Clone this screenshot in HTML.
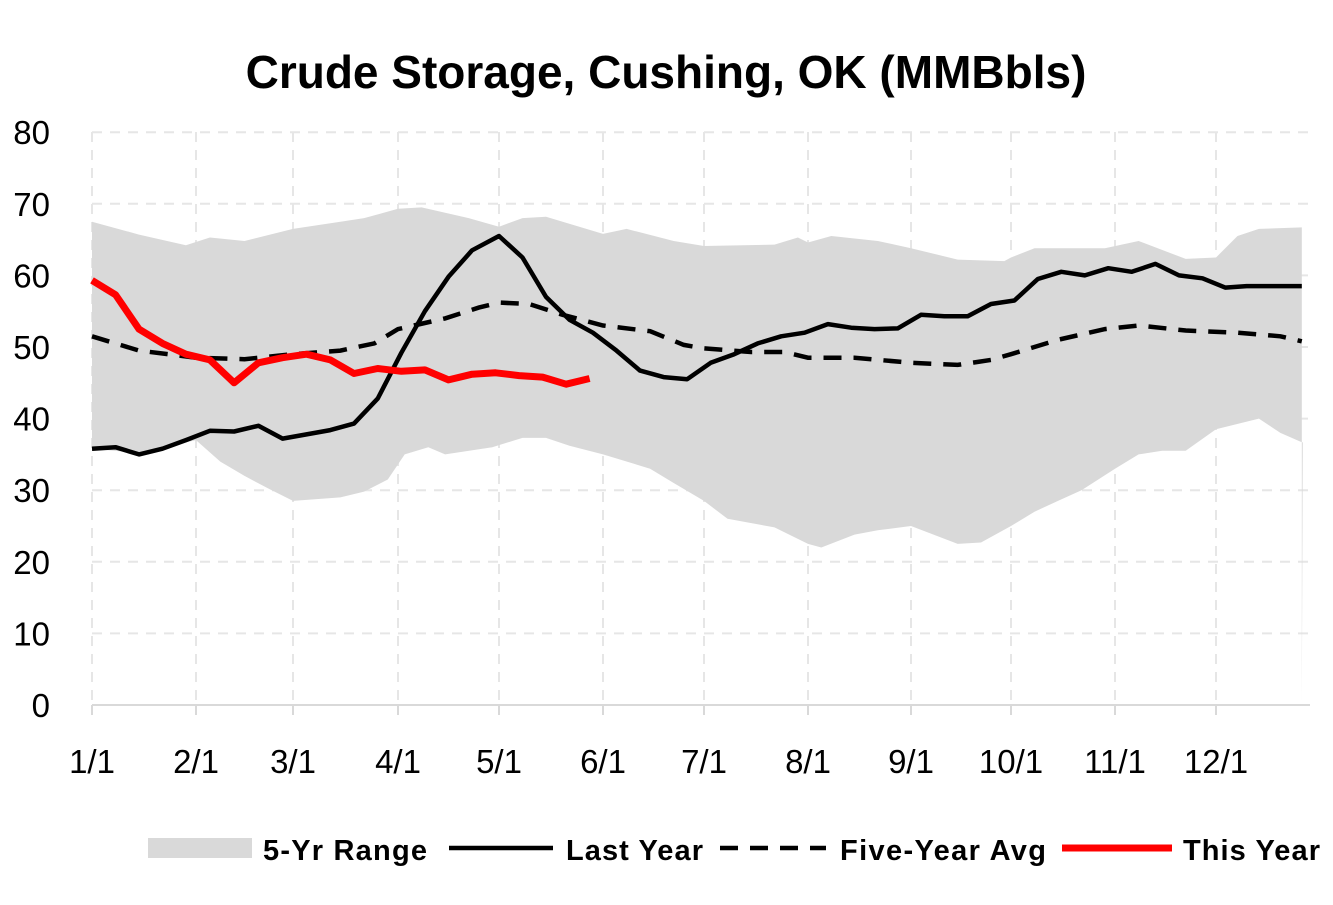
<!DOCTYPE html>
<html><head><meta charset="utf-8"><style>
body{margin:0;background:#fff;}
svg text{font-family:"Liberation Sans",sans-serif;}
</style></head><body>
<svg id="s" width="1333" height="900" xmlns="http://www.w3.org/2000/svg"></svg>
<script>
const s=document.getElementById('s');
const mpx=[92,196,293,398,499,603,704,808,911,1011,1115,1216,1311];
const dim=[31,28,31,30,31,30,31,31,30,31,30,31];
function X(m,d){return mpx[m-1]+(d-1)/dim[m-1]*(mpx[m]-mpx[m-1]);}
function Y(v){return 705-v*7.16;}
function P(arr){return arr.map((p,i)=>(i?'L':'M')+X(p[0],p[1]).toFixed(1)+','+Y(p[2]).toFixed(1)).join(' ');}
let h='';
for(let v=10;v<=80;v+=10)h+=`<line x1="92" x2="1310" y1="${Y(v)}" y2="${Y(v)}" stroke="#e6e6e6" stroke-width="2" stroke-dasharray="10,8"/>`;
for(let i=0;i<12;i++)h+=`<line x1="${mpx[i]}" x2="${mpx[i]}" y1="132" y2="705" stroke="#e6e6e6" stroke-width="2" stroke-dasharray="10,8"/>`;
const up=[[1,1,67.5],[1,15,65.7],[1,29,64.2],[2,5,65.3],[2,15,64.8],[3,1,66.5],[3,15,67.5],[3,22,68],[4,1,69.3],[4,8,69.5],[4,22,68],[5,1,66.8],[5,8,68],[5,15,68.2],[6,1,65.8],[6,8,66.5],[6,22,64.8],[7,1,64.1],[7,22,64.3],[7,29,65.3],[8,1,64.6],[8,8,65.5],[8,22,64.8],[9,1,63.8],[9,15,62.2],[9,29,62],[10,1,62.5],[10,8,63.8],[10,29,63.8],[11,8,64.8],[11,22,62.3],[12,1,62.5],[12,8,65.5],[12,15,66.5],[12,29,66.7]];
const lo=[[1,1,35.8],[1,15,35.2],[2,1,37],[2,8,34],[2,15,32],[2,22,30.2],[3,1,28.5],[3,15,29],[3,22,29.8],[3,29,31.5],[4,3,35],[4,10,36],[4,15,35],[4,29,36],[5,8,37.3],[5,15,37.3],[5,22,36.2],[6,1,35],[6,15,33],[6,22,31],[7,1,28.5],[7,8,26],[7,22,24.8],[8,1,22.5],[8,5,22],[8,15,23.8],[8,22,24.4],[9,1,25],[9,15,22.5],[9,22,22.7],[10,1,25],[10,8,27],[10,15,28.5],[10,22,30],[11,1,33],[11,8,35],[11,15,35.5],[11,22,35.5],[12,1,38.5],[12,15,40],[12,22,38],[12,29,36.7]];
const ex=X(12,29);
let area=P(up)+' L'+ex+','+Y(36.7)+' L'+ex+',705 L'+(ex+1)+','+Y(36.7)+' '+[...lo].reverse().map(p=>'L'+X(p[0],p[1]).toFixed(1)+','+Y(p[2]).toFixed(1)).join(' ')+' Z';
h+=`<path d="${area}" fill="#d9d9d9"/>`;
const ly=[[1,1,35.8],[1,8,36],[1,15,35],[1,22,35.8],[1,29,37],[2,5,38.3],[2,12,38.2],[2,19,39],[2,26,37.2],[3,5,37.8],[3,12,38.4],[3,19,39.3],[3,26,42.8],[4,2,49.2],[4,9,55],[4,16,59.8],[4,23,63.5],[5,1,65.5],[5,8,62.5],[5,15,57],[5,22,53.8],[5,29,52],[6,5,49.5],[6,12,46.7],[6,19,45.8],[6,26,45.5],[7,3,47.8],[7,10,49],[7,17,50.5],[7,24,51.5],[7,31,52],[8,7,53.2],[8,14,52.7],[8,21,52.5],[8,28,52.6],[9,4,54.5],[9,11,54.3],[9,18,54.3],[9,25,56],[10,2,56.5],[10,9,59.5],[10,16,60.5],[10,23,60],[10,30,61],[11,6,60.5],[11,13,61.6],[11,20,60],[11,27,59.6],[12,4,58.3],[12,11,58.5],[12,29,58.5]];
const av=[[1,1,51.5],[1,15,49.5],[2,1,48.5],[2,15,48.3],[3,1,49],[3,15,49.5],[3,25,50.5],[4,1,52.5],[4,15,54],[4,25,55.5],[5,1,56.2],[5,10,56],[5,20,54.5],[6,1,53],[6,15,52.2],[6,25,50.3],[7,1,49.8],[7,15,49.3],[7,25,49.3],[8,1,48.5],[8,15,48.5],[9,1,47.8],[9,15,47.5],[9,25,48.2],[10,1,49],[10,15,51],[10,29,52.5],[11,8,53],[11,22,52.3],[12,8,52],[12,22,51.5],[12,29,50.8]];
const ty=[[1,1,59.3],[1,8,57.3],[1,15,52.5],[1,22,50.5],[1,29,49],[2,5,48.2],[2,12,45],[2,19,47.8],[2,26,48.5],[3,5,49],[3,12,48.2],[3,19,46.3],[3,26,47],[4,2,46.6],[4,9,46.8],[4,16,45.4],[4,23,46.2],[4,30,46.4],[5,7,46],[5,14,45.8],[5,21,44.8],[5,28,45.6]];
h+=`<path d="${P(av)}" fill="none" stroke="#000" stroke-width="4.5" stroke-dasharray="18,12"/>`;
h+=`<path d="${P(ly)}" fill="none" stroke="#000" stroke-width="4.5" stroke-linejoin="round"/>`;
h+=`<path d="${P(ty)}" fill="none" stroke="#ff0000" stroke-width="7" stroke-linejoin="round"/>`;
h+=`<line x1="92" x2="1310" y1="705" y2="705" stroke="#d9d9d9" stroke-width="2"/>`;
for(let i=0;i<12;i++)h+=`<line x1="${mpx[i]}" x2="${mpx[i]}" y1="705" y2="715" stroke="#d9d9d9" stroke-width="2"/>`;
for(let v=0;v<=80;v+=10)h+=`<text x="50" y="${Y(v)+12}" font-size="33" text-anchor="end">${v}</text>`;
const ml=['1/1','2/1','3/1','4/1','5/1','6/1','7/1','8/1','9/1','10/1','11/1','12/1'];
ml.forEach((t,i)=>h+=`<text x="${mpx[i]}" y="773" font-size="33" text-anchor="middle">${t}</text>`);
h+=`<text x="666" y="88" font-size="46" font-weight="bold" text-anchor="middle">Crude Storage, Cushing, OK (MMBbls)</text>`;
h+=`<rect x="148" y="838" width="104" height="20" fill="#d9d9d9"/><text x="263" y="860" font-size="29" font-weight="bold" textLength="164">5-Yr Range</text>`;
h+=`<line x1="449" x2="553" y1="848" y2="848" stroke="#000" stroke-width="4.5"/><text x="566" y="860" font-size="29" font-weight="bold" textLength="137">Last Year</text>`;
h+=`<line x1="720" x2="826" y1="848" y2="848" stroke="#000" stroke-width="4.5" stroke-dasharray="18,12"/><text x="840" y="860" font-size="29" font-weight="bold" textLength="206">Five-Year Avg</text>`;
h+=`<line x1="1062" x2="1172" y1="848" y2="848" stroke="#ff0000" stroke-width="7"/><text x="1183" y="860" font-size="29" font-weight="bold" textLength="137">This Year</text>`;
s.innerHTML=h;
</script>
</body></html>
